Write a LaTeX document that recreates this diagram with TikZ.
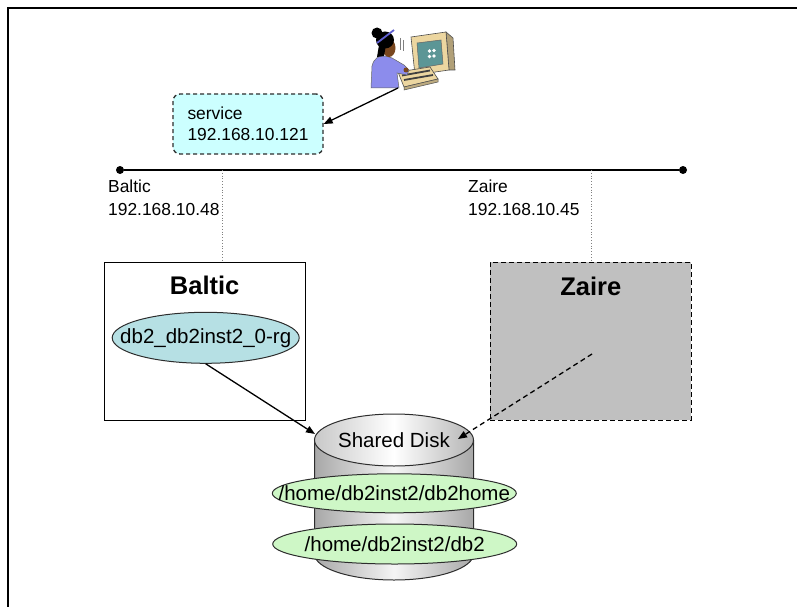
\documentclass[tikz,border=0pt]{standalone}
\usepackage{fontspec}
\setmainfont{Liberation Sans}
\usetikzlibrary{arrows.meta,shapes.geometric}

\definecolor{svcfill}{RGB}{204,255,255}
\definecolor{rgfill}{RGB}{182,224,228}
\definecolor{mountfill}{RGB}{206,247,198}
\definecolor{hostgray}{RGB}{192,192,192}
\definecolor{outline}{RGB}{45,45,45}
\definecolor{diskedge}{RGB}{168,168,168}
\definecolor{disktopedge}{RGB}{200,200,200}
\definecolor{monbeige}{RGB}{236,214,160}
\definecolor{screenteal}{RGB}{92,150,150}
\definecolor{shirt}{RGB}{140,140,236}
\definecolor{skin}{RGB}{120,70,30}
\definecolor{band}{RGB}{96,96,208}

% zero-width box so an ellipse keeps exactly its given size
\newcommand{\flatlabel}[1]{\makebox[0pt]{#1}}

\begin{document}
\begin{tikzpicture}[x=1pt,y=-1pt,
  labeltext/.style={font=\fontsize{17.4}{23}\selectfont, align=left, inner sep=0pt, anchor=north west},
  svcbox/.style={draw=outline, dashed, dash pattern=on 4pt off 3pt, line width=1.3pt,
    rounded corners=7pt, fill=svcfill, minimum width=150pt, minimum height=60pt,
    align=left, font=\fontsize{17.4}{21}\selectfont, inner sep=0pt},
  hostbox/.style={draw=black, line width=1.2pt, minimum width=201pt, minimum height=158pt, inner sep=0pt},
  hosttitle/.style={font=\fontsize{25.5}{30}\selectfont\bfseries, inner sep=0pt, anchor=base},
  rgnode/.style={ellipse, draw=outline, line width=1pt, fill=rgfill, minimum width=187pt,
    minimum height=51pt, inner sep=0pt, font=\fontsize{20.5}{24}\selectfont},
  mountnode/.style={ellipse, draw=outline, line width=1pt, fill=mountfill, minimum width=244pt,
    minimum height=39pt, inner sep=0pt, font=\fontsize{20.5}{24}\selectfont},
  link/.style={line width=1.3pt, -{Triangle[length=9pt,width=7pt]}},
  tap/.style={draw=gray, dotted, line width=0.8pt},
  busdot/.style={circle, fill=black, minimum size=8pt, inner sep=0pt}]

\useasboundingbox (0,0) rectangle (797,607);

% page frame
\draw[line width=2pt] (8,607) -- (8,8) -- (797,8);

% ---------- workstation user ----------
% monitor depth and front
\filldraw[fill=monbeige!75!black, draw=black!70, line width=0.6pt]
  (446,32) -- (453,38) -- (455,70) -- (449,70) -- cycle;
\filldraw[fill=monbeige, draw=black!70, line width=0.6pt]
  (411,37) -- (446,32) -- (449,70) -- (415,75) -- cycle;
\filldraw[fill=screenteal, draw=black!60, line width=0.5pt]
  (417,43) -- (441,40) -- (443,64) -- (419,68) -- cycle;
\fill[white] (429.5,51) circle (1.8pt) (434,50.5) circle (1.8pt) (429.5,56.5) circle (1.8pt) (434,56) circle (1.8pt);
% keyboard tray
\filldraw[fill=monbeige, draw=black!70, line width=0.6pt]
  (398,72) -- (430,67) -- (438,79) -- (404,87) -- cycle;
\filldraw[fill=monbeige!80!black, draw=black!70, line width=0.5pt]
  (404,87) -- (438,79) -- (438,82) -- (404,90) -- cycle;
\draw[black!75, line width=1.8pt] (402,75.5) -- (430,70.5) (404,80) -- (433,75);
% motion marks
\draw[gray, line width=0.6pt] (400,38) -- (400,50) (403.5,40) -- (403.5,51);
% person
\filldraw[fill=shirt, draw=black!60, line width=0.5pt]
  (371,88) -- (372,66) .. controls (374,58) and (379,55) .. (386,56)
  -- (392,58) -- (404,65) -- (409,70) -- (407,75) -- (397,73) -- (399,88) -- cycle;
\fill[skin] (389,48) ellipse [x radius=6.5pt, y radius=9pt];
\fill[skin] (406,70) circle (2.5pt);
\fill[black] (385,40) ellipse [x radius=9pt, y radius=8.5pt];
\fill[black] (377,33) circle (5.5pt);
\fill[black] (379,45) -- (377,57) -- (384,56) -- (386,45) -- cycle;
\draw[band, line width=1.8pt] (377,43) -- (394,30);

\coordinate (user) at (398,88);

% ---------- service address ----------
\node[svcbox] (svc) at (248,124) {service\\192.168.10.121};
\draw[link] (user) -- (svc.east);

% ---------- public network ----------
\node[busdot] (busL) at (120,170) {};
\node[busdot] (busR) at (683,170) {};
\draw[line width=2pt] (busL) -- (busR);

\node[labeltext] (balticip) at (108,180) {Baltic\\192.168.10.48};
\node[labeltext] (zaireip) at (468,180) {Zaire\\192.168.10.45};

% ---------- hosts ----------
\node[hostbox] (baltic) at (204.7,341.3) {};
\node[hostbox, fill=hostgray, dashed, dash pattern=on 5pt off 3pt] (zaire) at (590.8,341.2) {};
\node[hosttitle] (baltictitle) at (204.7,294.3) {Baltic};
\node[hosttitle] (zairetitle) at (590.8,295) {Zaire};

\coordinate (tapB) at (222,170);
\coordinate (tapZ) at (591,170);
\draw[tap] (tapB) -- (tapB |- baltic.north);
\draw[tap] (tapZ) -- (tapZ |- zaire.north);

\node[rgnode] (rg) at (205.7,337.8) {\flatlabel{db2\_db2inst2\_0-rg}};

% ---------- shared disk ----------
\path[left color=diskedge, right color=diskedge, middle color=white!96!black]
  (314.5,440) -- (314.5,554)
  arc[start angle=180, end angle=360, x radius=79.5pt, y radius=26pt]
  -- (473.5,440) -- cycle;
\draw[outline, line width=1pt] (314.5,440) -- (314.5,554)
  arc[start angle=180, end angle=360, x radius=79.5pt, y radius=26pt]
  -- (473.5,440);
\node[ellipse, draw=outline, line width=1pt, left color=disktopedge, right color=diskedge!85,
  middle color=white, minimum width=159pt, minimum height=52pt, inner sep=0pt,
  font=\fontsize{20.5}{24}\selectfont] (disktop) at (394,440) {\flatlabel{Shared Disk}};

\node[mountnode] (home) at (394.3,493.3) {\flatlabel{/home/db2inst2/db2home}};
\node[mountnode, minimum height=40pt] (data) at (394.7,544) {\flatlabel{/home/db2inst2/db2}};

% ---------- disk access ----------
\coordinate (diskL) at (315,434);
\coordinate (diskR) at (458,439);
\coordinate (zaireRG) at (592,354);
\draw[link] (rg.south) -- (diskL);
\draw[link, dashed, dash pattern=on 5pt off 3.5pt] (zaireRG) -- (diskR);

\end{tikzpicture}
\end{document}
